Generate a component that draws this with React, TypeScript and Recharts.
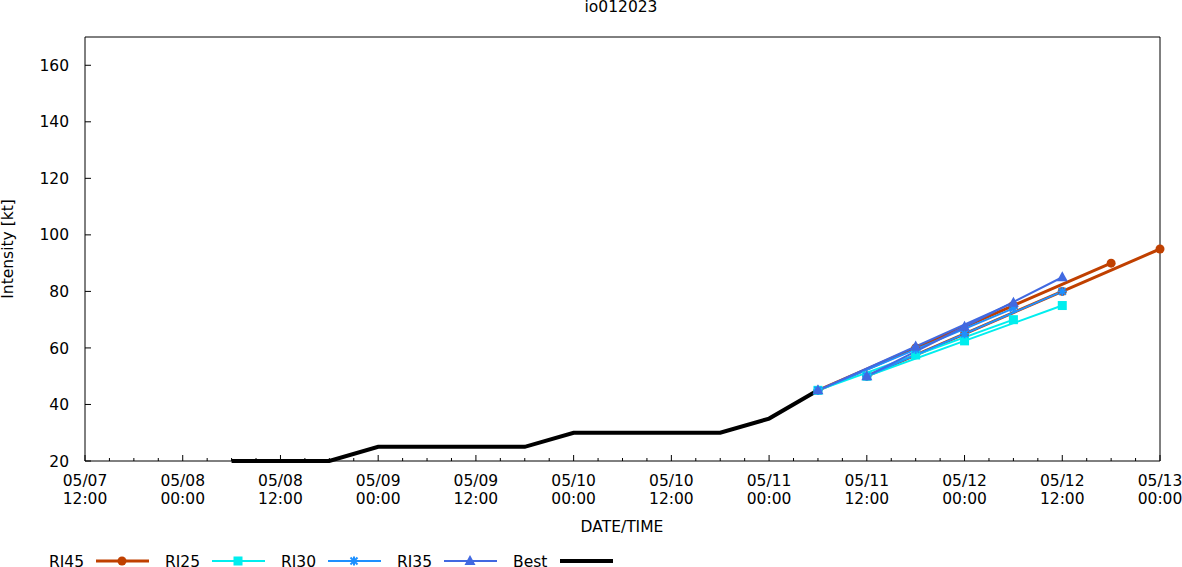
import React from 'react';
import { LineChart, Line, XAxis, YAxis } from 'recharts';

// hours counted from 05/07 12:00
const BEST_HOURS = [18, 24, 30, 36, 42, 48, 54, 60, 66, 72, 78, 84, 90];
const BEST_KT = [20, 20, 20, 25, 25, 25, 25, 30, 30, 30, 30, 35, 45];

const HOURS_A = [90, 102, 114, 126];
const HOURS_B = [96, 108, 120, 132];

const RI45_A = [45, 60, 75, 90];
const RI45_B = [50, 65, 80, 95];
const RI25_A = [45, 57.5, 70];
const RI25_B = [50, 62.5, 75];
const RI30_A = [45, 59.5, 74];
const RI30_B = [50, 65, 80];
const RI35_A = [45, 60.5, 76];
const RI35_B = [50, 67.5, 85];

const X_TICK_HOURS = [0, 12, 24, 36, 48, 60, 72, 84, 96, 108, 120, 132];
const X_TICK_DATES = ['05/07', '05/08', '05/08', '05/09', '05/09', '05/10', '05/10', '05/11', '05/11', '05/12', '05/12', '05/13'];
const X_TICK_TIMES = ['12:00', '00:00', '12:00', '00:00', '12:00', '00:00', '12:00', '00:00', '12:00', '00:00', '12:00', '00:00'];
const X_MINOR = Array.from({ length: 45 }, (_, i) => i * 3);
const Y_TICKS = [20, 40, 60, 80, 100, 120, 140, 160];

const FONT = '"DejaVu Sans", sans-serif';
const FS = 15.5;

const C_RI45 = '#c04000';
const C_RI25 = '#00eeee';
const C_RI30 = '#1e90ff';
const C_RI35 = '#4169e1';

const toRows = (hours: number[], vals: number[]) => vals.map((v, i) => ({ t: hours[i], v }));

type Shape = 'circle' | 'square' | 'star' | 'triangle' | 'none';

function Marker({ x, y, shape, color }: { x: number; y: number; shape: Shape; color: string }) {
  if (shape === 'circle') return <circle cx={x} cy={y} r={4.5} fill={color} />;
  if (shape === 'square') return <rect x={x - 4.5} y={y - 4.5} width={9} height={9} fill={color} />;
  if (shape === 'triangle')
    return <polygon points={`${x},${y - 6} ${x + 5.5},${y + 4} ${x - 5.5},${y + 4}`} fill={color} />;
  if (shape === 'star')
    return (
      <g stroke={color} strokeWidth={2}>
        <line x1={x - 4.5} x2={x + 4.5} y1={y} y2={y} />
        <line x1={x} x2={x} y1={y - 4.5} y2={y + 4.5} />
        <line x1={x - 3.5} x2={x + 3.5} y1={y - 3.5} y2={y + 3.5} />
        <line x1={x - 3.5} x2={x + 3.5} y1={y + 3.5} y2={y - 3.5} />
      </g>
    );
  return null;
}

const dotFor = (shape: Shape, color: string) => (p: any) => (
  <g key={`d-${p.index}-${p.cx}`}>
    <Marker x={p.cx} y={p.cy} shape={shape} color={color} />
  </g>
);

const SERIES = [
  { name: 'RI45', color: C_RI45, width: 3, shape: 'circle' as Shape, parts: [toRows(HOURS_A, RI45_A), toRows(HOURS_B, RI45_B)] },
  { name: 'RI25', color: C_RI25, width: 2, shape: 'square' as Shape, parts: [toRows(HOURS_A, RI25_A), toRows(HOURS_B, RI25_B)] },
  { name: 'RI30', color: C_RI30, width: 2, shape: 'star' as Shape, parts: [toRows(HOURS_A, RI30_A), toRows(HOURS_B, RI30_B)] },
  { name: 'RI35', color: C_RI35, width: 2, shape: 'triangle' as Shape, parts: [toRows(HOURS_A, RI35_A), toRows(HOURS_B, RI35_B)] },
  { name: 'Best', color: '#000000', width: 4, shape: 'none' as Shape, parts: [toRows(BEST_HOURS, BEST_KT)] },
];

const BottomTick = (props: any) => {
  const { x, y, payload } = props;
  const h = payload.value;
  const idx = X_TICK_HOURS.indexOf(h);
  const len = h % 12 === 0 ? 6 : 3;
  return (
    <g>
      <line x1={x} x2={x} y1={y} y2={y - len} stroke="#000" />
      {idx >= 0 && (
        <text x={x} y={y + 24.7} textAnchor="middle" fontFamily={FONT} fontSize={FS} fill="#000">
          <tspan x={x}>{X_TICK_DATES[idx]}</tspan>
          <tspan x={x} dy={18}>{X_TICK_TIMES[idx]}</tspan>
        </text>
      )}
    </g>
  );
};

const TopTick = (props: any) => {
  const { x, y, payload } = props;
  const len = payload.value % 12 === 0 ? 6 : 3;
  return <line x1={x} x2={x} y1={y} y2={y + len} stroke="#000" />;
};

const LeftTick = (props: any) => {
  const { x, y, payload } = props;
  return (
    <g>
      <line x1={x} x2={x + 6} y1={y} y2={y} stroke="#000" />
      <text x={x - 16} y={y + 5.6} textAnchor="end" fontFamily={FONT} fontSize={FS} fill="#000">
        {payload.value}
      </text>
    </g>
  );
};

const RightTick = (props: any) => {
  const { x, y } = props;
  return <line x1={x} x2={x - 6} y1={y} y2={y} stroke="#000" />;
};

function LegendRow() {
  return (
    <g>
      {SERIES.map((s, i) => {
        const x0 = 49 + i * 116;
        const cy = 561;
        return (
          <g key={s.name}>
            <text x={x0} y={566.5} fontFamily={FONT} fontSize={FS} fill="#000">
              {s.name}
            </text>
            <line x1={x0 + 47} x2={x0 + 100} y1={cy} y2={cy} stroke={s.color} strokeWidth={s.width} />
            <Marker x={x0 + 73} y={cy} shape={s.shape} color={s.color} />
          </g>
        );
      })}
    </g>
  );
}

export default function App() {
  return (
    <div style={{ position: 'absolute', left: 0, top: 0, width: 1182, height: 567, background: '#fff' }}>
      <LineChart width={1182} height={567} margin={{ top: 36, right: 21, bottom: 105, left: 84 }}>
        <XAxis
          dataKey="t"
          type="number"
          domain={[0, 132]}
          ticks={X_MINOR}
          interval={0}
          height={1}
          tickSize={0}
          tickMargin={0}
          tickLine={false}
          axisLine={{ stroke: '#000' }}
          tick={<BottomTick />}
        />
        <XAxis
          xAxisId="top"
          orientation="top"
          dataKey="t"
          type="number"
          domain={[0, 132]}
          ticks={X_MINOR}
          interval={0}
          height={1}
          tickSize={0}
          tickMargin={0}
          tickLine={false}
          axisLine={{ stroke: '#000' }}
          tick={<TopTick />}
        />
        <YAxis
          type="number"
          domain={[20, 170]}
          ticks={Y_TICKS}
          interval={0}
          width={1}
          tickSize={0}
          tickMargin={0}
          tickLine={false}
          axisLine={{ stroke: '#000' }}
          tick={<LeftTick />}
        />
        <YAxis
          yAxisId="right"
          orientation="right"
          type="number"
          domain={[20, 170]}
          ticks={Y_TICKS}
          interval={0}
          width={1}
          tickSize={0}
          tickMargin={0}
          tickLine={false}
          axisLine={{ stroke: '#000' }}
          tick={<RightTick />}
        />
        {SERIES.flatMap((s) =>
          s.parts.map((rows, j) => (
            <Line
              key={`${s.name}-${j}`}
              data={rows}
              dataKey="v"
              stroke={s.color}
              strokeWidth={s.width}
              dot={s.shape === 'none' ? false : dotFor(s.shape, s.color)}
              activeDot={false}
              isAnimationActive={false}
              strokeLinejoin="miter"
            />
          ))
        )}
      </LineChart>
      <svg width={1182} height={567} style={{ position: 'absolute', left: 0, top: 0, pointerEvents: 'none' }}>
        <text x={621} y={11.7} textAnchor="middle" fontFamily={FONT} fontSize={FS} fill="#000">
          io012023
        </text>
        <text
          x={0}
          y={0}
          transform="translate(12.6 249) rotate(-90)"
          textAnchor="middle"
          fontFamily={FONT}
          fontSize={FS}
          fill="#000"
        >
          Intensity [kt]
        </text>
        <text x={622} y={531.7} textAnchor="middle" fontFamily={FONT} fontSize={FS} fill="#000">
          DATE/TIME
        </text>
        <LegendRow />
      </svg>
    </div>
  );
}
